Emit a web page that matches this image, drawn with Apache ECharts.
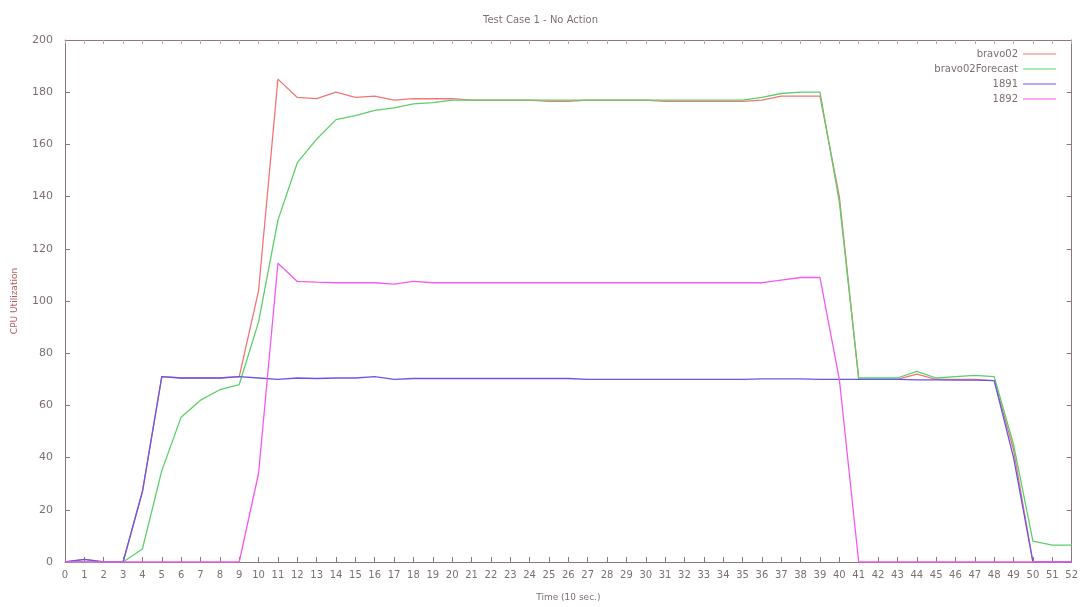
<!DOCTYPE html>
<html>
<head>
<meta charset="utf-8">
<script src="https://cdn.jsdelivr.net/npm/echarts@6/dist/echarts.min.js"></script>
<style>
  html, body { margin: 0; padding: 0; background: #fff; }
  #chart { width: 1081px; height: 607px; }
</style>
</head>
<body>
<div id="chart"></div>
<script>
// time steps (10 sec each)
var time = [0,1,2,3,4,5,6,7,8,9,10,11,12,13,14,15,16,17,18,19,20,21,22,23,24,25,26,
            27,28,29,30,31,32,33,34,35,36,37,38,39,40,41,42,43,44,45,46,47,48,49,50,51,52];

var bravo02 = [0,1,0,0,27,71,70.5,70.5,70.5,71,104,185,178,177.5,180,178,178.5,177,177.5,177.5,177.5,177,177,177,177,176.5,176.5,177,177,177,177,176.5,176.5,176.5,176.5,176.5,177,178.5,178.5,178.5,140,70,70,70,72,70,70,70,69.5,43,0,0,0];

var bravo02Forecast = [0,0,0,0,5,35,55.5,62,66,68,92,131,153,162,169.5,171,173,174,175.5,176,177,177,177,177,177,177,177,177,177,177,177,177,177,177,177,177,178,179.5,180,180,138,70.5,70.5,70.5,73,70.5,71,71.5,71,45,8,6.5,6.5];

var s1891 = [0,1,0,0,27,71,70.5,70.5,70.5,71,70.5,70,70.5,70.3,70.5,70.5,71,70,70.3,70.3,70.3,70.3,70.3,70.3,70.3,70.3,70.3,70,70,70,70,70,70,70,70,70,70.2,70.2,70.2,70,70,70,70,70,69.8,69.8,69.7,69.7,69.5,40,0,0,0];

var s1892 = [0,0,0,0,0,0,0,0,0,0,34,114.5,107.5,107.2,107,107,107,106.5,107.5,107,107,107,107,107,107,107,107,107,107,107,107,107,107,107,107,107,107,108,109,109,70,0,0,0,0,0,0,0,0,0,0,0,0];

var seriesNames = ['bravo02', 'bravo02Forecast', '1891', '1892'];
var seriesValues = [bravo02, bravo02Forecast, s1891, s1892];
var colors = ['#f07676', '#5ccf6a', '#6658e6', '#f25af0'];

function pairs(vals) {
    return time.map(function (t, i) { return [t, vals[i]]; });
}

var axisColor = '#8c7676';
var textColor = '#7d6f6f';

var myChart = echarts.init(document.getElementById('chart'));

var option = {
    backgroundColor: '#ffffff',
    animation: false,
    title: {
        text: 'Test Case 1 - No Action',
        left: 'center',
        top: 10,
        textStyle: { fontSize: 10, fontWeight: 'normal', color: textColor, fontFamily: 'DejaVu Sans' }
    },
    legend: {
        data: seriesNames,
        orient: 'vertical',
        right: 20,
        top: 44,
        align: 'right',
        itemWidth: 33,
        itemHeight: 8,
        itemGap: 5,
        icon: 'path://M0,4L33,4L33,5L0,5Z',
        textStyle: { fontSize: 10, color: textColor, fontFamily: 'DejaVu Sans' }
    },
    grid: { left: 65, right: 8, top: 40, bottom: 41 },
    xAxis: [{
        type: 'value',
        min: 0,
        max: 52,
        interval: 1,
        name: 'Time (10 sec.)',
        nameLocation: 'middle',
        nameGap: 31,
        nameTextStyle: { fontSize: 9, color: textColor, fontFamily: 'DejaVu Sans' },
        axisLine: { onZero: false, lineStyle: { color: axisColor, width: 1 } },
        axisTick: { inside: true, length: 5, lineStyle: { color: axisColor } },
        axisLabel: { fontSize: 10, color: textColor, margin: 8, fontFamily: 'DejaVu Sans' },
        splitLine: { show: false }
    }, {
        type: 'value',
        position: 'top',
        min: 0,
        max: 52,
        interval: 1,
        axisLine: { show: true, onZero: false, lineStyle: { color: axisColor } },
        axisTick: { show: true, inside: true, length: 4, lineStyle: { color: '#b8a8a8' } },
        axisLabel: { show: false },
        splitLine: { show: false }
    }],
    yAxis: [{
        type: 'value',
        min: 0,
        max: 200,
        interval: 20,
        name: 'CPU Utilization',
        nameLocation: 'middle',
        nameGap: 46,
        nameTextStyle: { fontSize: 9, color: '#b05a5a', fontFamily: 'DejaVu Sans' },
        axisLine: { show: true, onZero: false, lineStyle: { color: axisColor } },
        axisTick: { show: true, inside: true, length: 5, lineStyle: { color: axisColor } },
        axisLabel: { fontSize: 11, color: textColor, margin: 12, fontFamily: 'DejaVu Sans' },
        splitLine: { show: false }
    }, {
        type: 'value',
        position: 'right',
        min: 0,
        max: 200,
        interval: 20,
        axisLine: { show: true, onZero: false, lineStyle: { color: axisColor } },
        axisTick: { show: true, inside: true, length: 5, lineStyle: { color: axisColor } },
        axisLabel: { show: false },
        splitLine: { show: false }
    }],
    series: seriesValues.map(function (vals, i) {
        return {
            name: seriesNames[i],
            type: 'line',
            data: pairs(vals),
            showSymbol: false,
            symbol: 'none',
            color: colors[i],
            lineStyle: { width: 1.3, color: colors[i] }
        };
    })
};

myChart.setOption(option);
</script>
</body>
</html>
